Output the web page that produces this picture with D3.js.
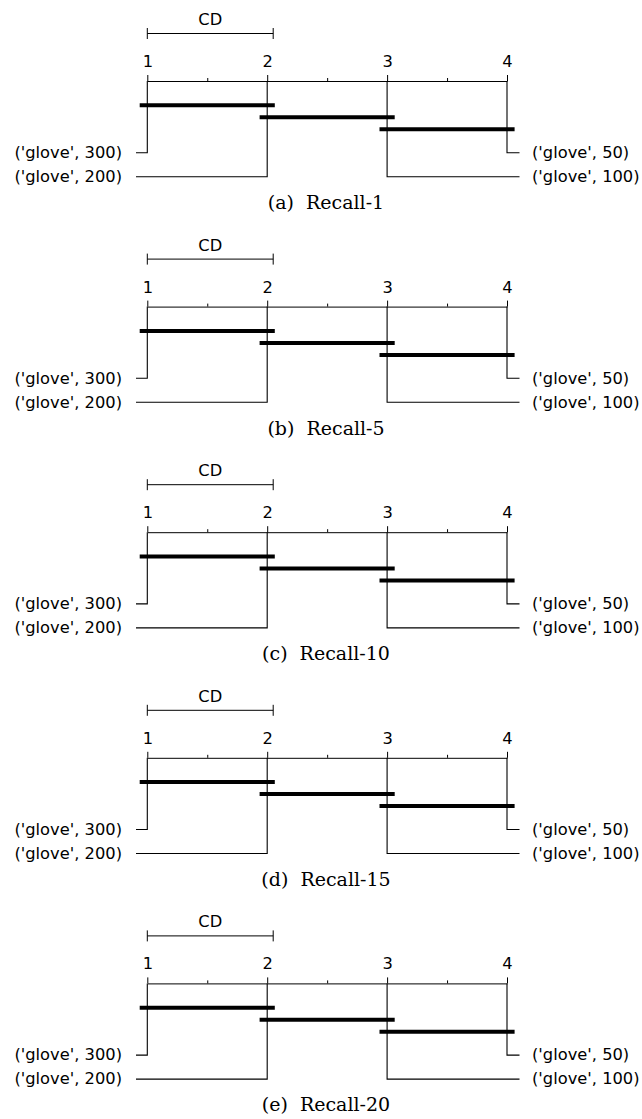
<!DOCTYPE html>
<html>
<head>
<meta charset="utf-8">
<script src="https://cdn.jsdelivr.net/npm/d3@7"></script>
<style>
  body { margin: 0; background: #fff; }
  svg { display: block; }
  .tick-label, .name-label { font-family: "DejaVu Sans", sans-serif; font-size: 16.3px; fill: #000; }
  .caption { font-family: "DejaVu Serif", serif; font-size: 19px; fill: #000; white-space: pre; }
</style>
</head>
<body>
<div id="chart"></div>
<script>
// methods, in order of their average rank
var methods = ["('glove', 300)", "('glove', 200)", "('glove', 100)", "('glove', 50)"];

// one entry per sub-figure
var panelLetters = ["(a)", "(b)", "(c)", "(d)", "(e)"];
var metrics = ["Recall-1", "Recall-5", "Recall-10", "Recall-15", "Recall-20"];
var avgRanks = [
  [1, 2, 3, 4],
  [1, 2, 3, 4],
  [1, 2, 3, 4],
  [1, 2, 3, 4],
  [1, 2, 3, 4]
];
var cdValues = [1.05, 1.05, 1.05, 1.05, 1.05];
// groups not significantly different (indices into methods)
var cliques = [[0, 1], [1, 2], [2, 3]];
var rankTicks = [1, 2, 3, 4];
var minorTicks = [1.5, 2.5, 3.5];

function drawCD() {
  var width = 642,
      height = 1119,
      panelStep = 225.6,
      axisY = 81,
      cdY = 33.5,
      cliqueY0 = 105.3,
      cliqueStep = 12,
      labelY0 = 152.7,
      labelStep = 24,
      leftEnd = 136,
      rightEnd = 519.5,
      barPad = 7.6;

  var svg = d3.select("#chart")
    .append("svg")
      .attr("width", width)
      .attr("height", height);

  svg.append("rect")
    .attr("width", width)
    .attr("height", height)
    .attr("fill", "#fff");

  var x = d3.scaleLinear()
      .domain([1, 4])
      .range([147.3, 507]);

  metrics.forEach(function(metric, p) {
    var ranks = avgRanks[p],
        cd = cdValues[p];

    var g = svg.append("g")
      .attr("transform", "translate(0," + (p * panelStep) + ")");

    // CD bar
    var cdG = g.append("g").attr("stroke", "#000").attr("stroke-width", 1);
    cdG.append("line")
      .attr("x1", x(1)).attr("x2", x(1 + cd))
      .attr("y1", cdY).attr("y2", cdY);
    [1, 1 + cd].forEach(function(v) {
      cdG.append("line")
        .attr("x1", x(v)).attr("x2", x(v))
        .attr("y1", cdY - 5.5).attr("y2", cdY + 5.5);
    });
    g.append("text")
      .attr("class", "tick-label")
      .attr("x", x(1 + cd / 2))
      .attr("y", 25)
      .attr("text-anchor", "middle")
      .text("CD");

    // rank axis, ticks pointing up
    var axisG = g.append("g")
      .attr("transform", "translate(0," + axisY + ")")
      .call(d3.axisTop(x)
        .tickValues(rankTicks)
        .tickSize(6)
        .tickSizeOuter(0)
        .tickPadding(8)
        .tickFormat(d3.format("d")));
    axisG.attr("font-family", null).attr("font-size", null);
    axisG.selectAll("text").attr("class", "tick-label").attr("fill", null);
    axisG.selectAll("path, line").attr("stroke", "#000");

    var minorG = g.append("g")
      .attr("transform", "translate(0," + axisY + ")")
      .call(d3.axisTop(x)
        .tickValues(minorTicks)
        .tickSize(3)
        .tickSizeOuter(0)
        .tickFormat(""));
    minorG.select(".domain").remove();
    minorG.selectAll("line").attr("stroke", "#000");

    // method lines and names
    var order = d3.range(methods.length).sort(function(a, b) { return ranks[a] - ranks[b]; });
    var half = Math.ceil(order.length / 2);
    var left = order.slice(0, half),
        right = order.slice(half).reverse();

    var lineG = g.append("g")
      .attr("fill", "none")
      .attr("stroke", "#000")
      .attr("stroke-width", 1.1);

    left.forEach(function(m, i) {
      var ly = labelY0 + i * labelStep;
      lineG.append("path")
        .attr("d", "M" + x(ranks[m]) + "," + axisY + "V" + ly + "H" + leftEnd);
      g.append("text")
        .attr("class", "name-label")
        .attr("x", leftEnd - 14)
        .attr("y", ly)
        .attr("dy", "0.32em")
        .attr("text-anchor", "end")
        .text(methods[m]);
    });

    right.forEach(function(m, i) {
      var ly = labelY0 + i * labelStep;
      lineG.append("path")
        .attr("d", "M" + x(ranks[m]) + "," + axisY + "V" + ly + "H" + rightEnd);
      g.append("text")
        .attr("class", "name-label")
        .attr("x", rightEnd + 12.5)
        .attr("y", ly)
        .attr("dy", "0.32em")
        .attr("text-anchor", "start")
        .text(methods[m]);
    });

    // clique bars
    g.selectAll(".clique")
      .data(cliques)
      .enter()
      .append("line")
        .attr("class", "clique")
        .attr("x1", function(c) { return x(ranks[c[0]]) - barPad; })
        .attr("x2", function(c) { return x(ranks[c[1]]) + barPad; })
        .attr("y1", function(c, i) { return cliqueY0 + i * cliqueStep; })
        .attr("y2", function(c, i) { return cliqueY0 + i * cliqueStep; })
        .attr("stroke", "#000")
        .attr("stroke-width", 4);

    // sub-figure caption
    g.append("text")
      .attr("class", "caption")
      .attr("x", 326)
      .attr("y", 209)
      .attr("text-anchor", "middle")
      .text(panelLetters[p] + "  " + metric);
  });
}

drawCD();
</script>
</body>
</html>
